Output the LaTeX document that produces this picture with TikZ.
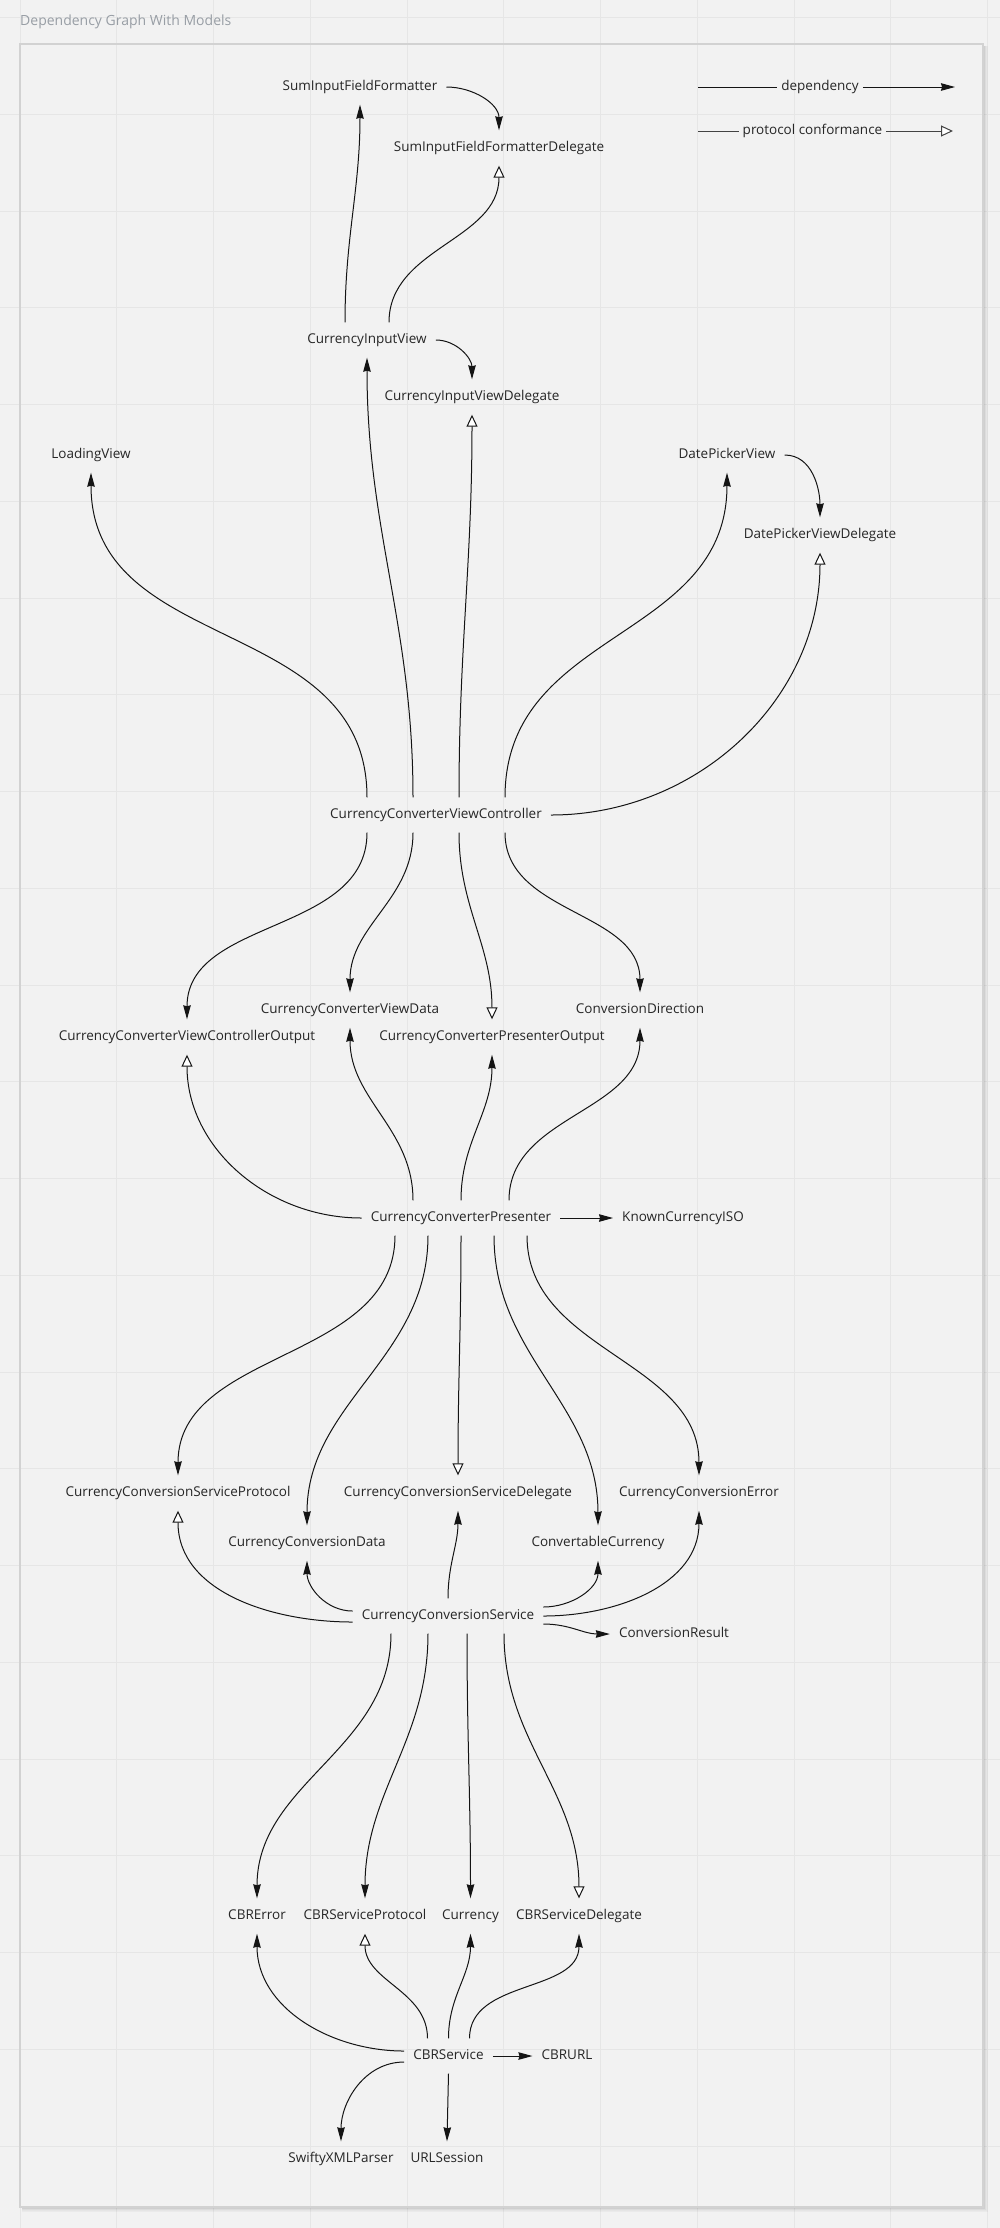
\documentclass[tikz,border=0pt]{standalone}
\usepackage{fontspec}
\setmainfont{Open Sans}
\usetikzlibrary{arrows.meta}

\tikzset{
  lbl/.style={font=\fontsize{13.5}{16}\selectfont, text=txtgray, inner xsep=9pt, inner ysep=0pt,
              minimum height=35pt, text height=9.6pt, text depth=3.2pt},
  dep/.style={line width=1pt, draw=linegray, -{Stealth[length=14pt, width=7.5pt, inset=1pt]}},
  conf/.style={line width=1pt, draw=linegray, -{Triangle[length=12pt, width=11pt, fill=white]}},
  plain/.style={line width=1pt, draw=linegray},
}

\begin{document}
\begin{tikzpicture}[x=1pt, y=1pt]
    % Màu sắc
    \definecolor{bg}{HTML}{F2F2F2}
    \definecolor{gridc}{HTML}{E6E6E6}
    \definecolor{framec}{HTML}{D2D2D2}
    \definecolor{txtgray}{HTML}{262626}
    \definecolor{linegray}{HTML}{141414}
    \definecolor{titlegray}{HTML}{989EA5}

    % 1. Nền, lưới và khung
    \useasboundingbox (0,0) rectangle (1000,-2228);
    \fill[bg] (0,0) rectangle (1000,-2228);
    \foreach \i in {0,...,10} {
        \draw[gridc, line width=1pt] ({20.2+96.75*\i},0) -- ++(0,-2228);
    }
    \foreach \j in {0,...,22} {
        \draw[gridc, line width=1pt] (0,{-17.5-96.75*\j}) -- ++(1000,0);
    }
    \foreach \k/\o in {1/0.14, 2/0.09, 3/0.05, 4/0.03} {
        \draw[black, opacity=\o, line width=1pt] (22,{-2207-\k}) -- ({983+\k},{-2207-\k}) -- ({983+\k},-46);
    }
    \draw[framec, line width=1.5pt] (20,-44) rectangle (983,-2207);
    \node[anchor=west, inner sep=0pt, font=\fontsize{14}{16}\selectfont, text=titlegray] (title) at (20,-22) {Dependency Graph With Models};

    % 2. Chú thích
    \coordinate (depA) at (698,-87);
    \coordinate (depB) at (955,-87);
    \node[lbl, inner xsep=4pt] (deplbl) at (820,-87) {dependency};
    \draw[plain] (depA) -- (deplbl);
    \draw[dep] (deplbl) -- (depB);
    \coordinate (confA) at (698,-131);
    \coordinate (confB) at (953,-131);
    \node[lbl, inner xsep=4pt] (conflbl) at (812.5,-131) {protocol conformance};
    \draw[plain, draw=linegray!80] (confA) -- (conflbl);
    \draw[conf, draw=linegray!80] (conflbl) -- (confB);

    % 3. Các nút
    \node[lbl] (siff)   at (360,-87)    {SumInputFieldFormatter};
    \node[lbl] (siffd)  at (499,-148)   {SumInputFieldFormatterDelegate};
    \node[lbl] (civ)    at (367,-340)   {CurrencyInputView};
    \node[lbl] (civd)   at (472,-397)   {CurrencyInputViewDelegate};
    \node[lbl] (lv)     at (91,-455)    {LoadingView};
    \node[lbl] (dpv)    at (727,-455)   {DatePickerView};
    \node[lbl] (dpvd)   at (820,-535)   {DatePickerViewDelegate};
    \node[lbl] (ccvc)   at (436,-815)   {CurrencyConverterViewController};
    \node[lbl] (ccvd)   at (350,-1010)  {CurrencyConverterViewData};
    \node[lbl] (cdir)   at (640,-1010)  {ConversionDirection};
    \node[lbl] (ccvco)  at (187,-1037)  {CurrencyConverterViewControllerOutput};
    \node[lbl] (ccpo)   at (492,-1037)  {CurrencyConverterPresenterOutput};
    \node[lbl] (ccp)    at (461,-1218)  {CurrencyConverterPresenter};
    \node[lbl] (kciso)  at (683,-1218)  {KnownCurrencyISO};
    \node[lbl] (ccsp)   at (178,-1493)  {CurrencyConversionServiceProtocol};
    \node[lbl] (ccsd)   at (458,-1493)  {CurrencyConversionServiceDelegate};
    \node[lbl] (cce)    at (699,-1493)  {CurrencyConversionError};
    \node[lbl] (ccdata) at (307,-1543)  {CurrencyConversionData};
    \node[lbl] (ccur)   at (598,-1543)  {ConvertableCurrency};
    \node[lbl] (ccs)    at (448,-1616)  {CurrencyConversionService};
    \node[lbl] (cres)   at (674,-1634)  {ConversionResult};
    \node[lbl] (cbre)   at (257,-1916)  {CBRError};
    \node[lbl] (cbrsp)  at (365,-1916)  {CBRServiceProtocol};
    \node[lbl] (cur)    at (470.5,-1916) {Currency};
    \node[lbl] (cbrsd)  at (579,-1916)  {CBRServiceDelegate};
    \node[lbl] (cbrs)   at (448.5,-2056) {CBRService};
    \node[lbl] (cbrurl) at (567,-2056)  {CBRURL};
    \node[lbl] (sxp)    at (341,-2159)  {SwiftyXMLParser};
    \node[lbl] (urls)   at (447,-2159)  {URLSession};

    % 4. Phần trên: các view
    \draw[dep]  (siff.east) to[out=0, in=90] (siffd.north);
    \draw[dep]  ([xshift=-22pt]civ.north) to[out=90, in=-90] (siff.south);
    \draw[conf] ([xshift=22pt]civ.north) to[out=90, in=-90] (siffd.south);
    \draw[dep]  (civ.east) to[out=0, in=90] (civd.north);
    \draw[dep]  (dpv.east) to[out=0, in=90] (dpvd.north);

    % 5. CurrencyConverterViewController
    \draw[dep]  ([xshift=-69pt]ccvc.north) to[out=90, in=-90, looseness=1.1] (lv.south);
    \draw[dep]  ([xshift=-23pt]ccvc.north) to[out=90, in=-90] (civ.south);
    \draw[conf] ([xshift=23pt]ccvc.north) to[out=90, in=-90] (civd.south);
    \draw[dep]  ([xshift=69pt]ccvc.north) to[out=90, in=-90, looseness=1.1] (dpv.south);
    \draw[conf] (ccvc.east) to[out=0, in=-90] (dpvd.south);
    \draw[dep]  ([xshift=-69pt]ccvc.south) to[out=-90, in=90] (ccvco.north);
    \draw[dep]  ([xshift=-23pt]ccvc.south) to[out=-90, in=90] (ccvd.north);
    \draw[conf] ([xshift=23pt]ccvc.south) to[out=-90, in=90] (ccpo.north);
    \draw[dep]  ([xshift=69pt]ccvc.south) to[out=-90, in=90] (cdir.north);

    % 6. CurrencyConverterPresenter
    \draw[conf] (ccp.west) to[out=180, in=-90] (ccvco.south);
    \draw[dep]  ([xshift=-48pt]ccp.north) to[out=90, in=-90] (ccvd.south);
    \draw[dep]  (ccp.north) to[out=90, in=-90] (ccpo.south);
    \draw[dep]  ([xshift=48pt]ccp.north) to[out=90, in=-90] (cdir.south);
    \draw[dep]  (ccp.east) -- (kciso.west);
    \draw[dep]  ([xshift=-66pt]ccp.south) to[out=-90, in=90] (ccsp.north);
    \draw[dep]  ([xshift=-33pt]ccp.south) to[out=-90, in=90] (ccdata.north);
    \draw[conf] (ccp.south) to[out=-90, in=90] (ccsd.north);
    \draw[dep]  ([xshift=33pt]ccp.south) to[out=-90, in=90] (ccur.north);
    \draw[dep]  ([xshift=66pt]ccp.south) to[out=-90, in=90] (cce.north);

    % 7. CurrencyConversionService
    \draw[conf] ([yshift=-6pt]ccs.west) to[out=180, in=-90] (ccsp.south);
    \draw[dep]  ([yshift=5pt]ccs.west) to[out=180, in=-90] (ccdata.south);
    \draw[dep]  (ccs.north) to[out=90, in=-90] (ccsd.south);
    \draw[dep]  ([yshift=9pt]ccs.east) to[out=0, in=-90] (ccur.south);
    \draw[dep]  (ccs.east) to[out=0, in=-90] (cce.south);
    \draw[dep]  ([yshift=-8pt]ccs.east) to[out=0, in=180] (cres.west);
    \draw[dep]  ([xshift=-57pt]ccs.south) to[out=-90, in=90] (cbre.north);
    \draw[dep]  ([xshift=-20pt]ccs.south) to[out=-90, in=90] (cbrsp.north);
    \draw[dep]  ([xshift=19pt]ccs.south) to[out=-90, in=90] (cur.north);
    \draw[conf] ([xshift=56pt]ccs.south) to[out=-90, in=90] (cbrsd.north);

    % 8. CBRService
    \draw[dep]  ([yshift=5pt]cbrs.west) to[out=180, in=-90] (cbre.south);
    \draw[conf] ([xshift=-21pt]cbrs.north) to[out=90, in=-90] (cbrsp.south);
    \draw[dep]  (cbrs.north) to[out=90, in=-90] (cur.south);
    \draw[dep]  ([xshift=21pt]cbrs.north) to[out=90, in=-90] (cbrsd.south);
    \draw[dep]  (cbrs.east) -- (cbrurl.west);
    \draw[dep]  ([yshift=-6pt]cbrs.west) to[out=180, in=90] (sxp.north);
    \draw[dep]  (cbrs.south) -- (urls.north);

\end{tikzpicture}
\end{document}
